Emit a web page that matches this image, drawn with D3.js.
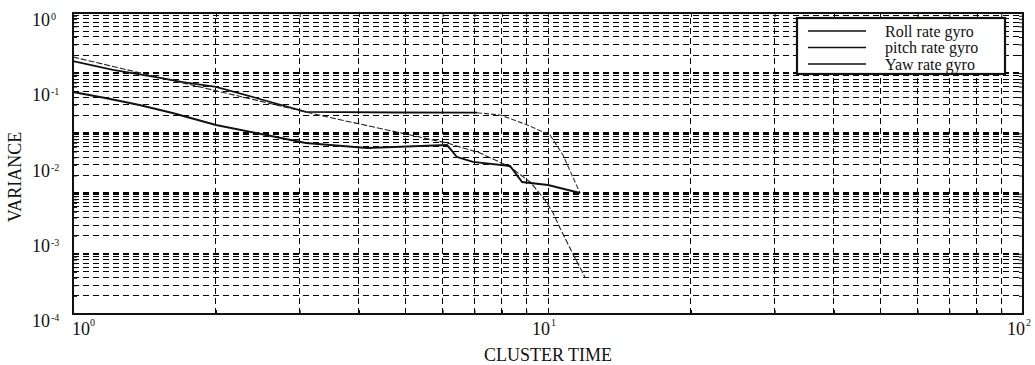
<!DOCTYPE html>
<html>
<head>
<meta charset="utf-8">
<script src="https://cdn.jsdelivr.net/npm/d3@7"></script>
<style>
  body { margin: 0; background: #fff; }
  svg { display: block; }
  text { font-family: "Liberation Serif", "Times New Roman", serif; fill: #111; }
</style>
</head>
<body>
<svg id="chart" width="1035" height="365"></svg>
<script>
// Cluster time values (s) and Allan-style variance for each gyro axis
const rollT   = [1, 1.214, 1.495, 1.704, 2.0, 2.43, 3.09, 4.88, 7.09, 7.93, 8.94, 10.1, 10.75, 11.23, 11.68];
const rollVar = [0.230, 0.175, 0.141, 0.121, 0.104, 0.0742, 0.0484, 0.0476, 0.0473, 0.0441, 0.0335, 0.0239, 0.013, 0.00703, 0.00405];

const pitchT   = [1, 3.36, 6.13, 7.19, 8.32, 9.17, 9.86, 10.25, 10.6, 11.23, 11.96];
const pitchVar = [0.26, 0.0428, 0.0187, 0.0138, 0.00899, 0.00568, 0.00327, 0.0022, 0.00139, 0.000667, 0.00031];

const yawT   = [1, 1.17, 1.38, 1.62, 2.0, 2.43, 3.09, 4.16, 6.13, 6.43, 6.95, 8.32, 8.82, 10.0, 11.68];
const yawVar = [0.0892, 0.0742, 0.0599, 0.0469, 0.0325, 0.0254, 0.0187, 0.0161, 0.0176, 0.0122, 0.0105, 0.00927, 0.00568, 0.00518, 0.00405];

const seriesNames = ["Roll rate gyro", "pitch rate gyro", "Yaw rate gyro"];

// Tick label exponents (labels read 10^k)
const xTickExp = [0, 1, 2];
const yTickExp = [0, -1, -2, -3, -4];

const svg = d3.select("#chart");
const L = 73, R = 1023, T = 13, B = 314;

const x = d3.scaleLog().domain([1, 100]).range([L, R]);
const y = d3.scaleLog().domain([1e-4, 1]).range([B, T]);
// horizontal grid of the figure spans five decades over the same height
const gridY = d3.scaleLog().domain([1e-5, 1]).range([B, T]);

svg.append("rect").attr("width", 1035).attr("height", 365).attr("fill", "#fff");

// ---- grid ----
const grid = svg.append("g").attr("stroke", "#000").attr("fill", "none")
  .attr("stroke-dasharray", "6,4").attr("shape-rendering", "crispEdges");
const isDecade = v => Math.abs(Math.log10(v) - Math.round(Math.log10(v))) < 1e-9;

grid.selectAll("line.v")
  .data(x.ticks().filter(v => v > 1 && v < 100))
  .join("line")
  .attr("x1", d => x(d)).attr("x2", d => x(d))
  .attr("y1", B).attr("y2", T)
  .attr("stroke-width", 1);

grid.selectAll("line.h")
  .data(gridY.ticks().filter(v => v > 1e-5 && v < 1))
  .join("line")
  .attr("x1", L).attr("x2", R)
  .attr("y1", d => gridY(d)).attr("y2", d => gridY(d))
  .attr("stroke-width", d => isDecade(d) ? 2.5 : 1);

// ---- inner ticks on all four sides ----
const tickStyle = g => { g.select(".domain").remove(); g.selectAll(".tick line").attr("stroke", "#111"); };
svg.append("g").attr("transform", `translate(0,${B})`)
  .call(d3.axisBottom(x).tickSize(-4).tickFormat("")).call(tickStyle);
svg.append("g").attr("transform", `translate(0,${T})`)
  .call(d3.axisTop(x).tickSize(-4).tickFormat("")).call(tickStyle);
svg.append("g").attr("transform", `translate(${L},0)`)
  .call(d3.axisLeft(gridY).tickSize(-4).tickFormat("")).call(tickStyle);
svg.append("g").attr("transform", `translate(${R},0)`)
  .call(d3.axisRight(gridY).tickSize(-4).tickFormat("")).call(tickStyle);

// ---- data ----
const line = d3.line().x(d => x(d[0])).y(d => y(d[1]));
const zipPts = (t, v) => t.map((d, i) => [d, v[i]]);

const rollPts = zipPts(rollT, rollVar);
const plateauEnd = 8; // index where the roll curve starts falling off
svg.append("path").datum(rollPts.slice(0, plateauEnd + 1))
  .attr("d", line).attr("fill", "none").attr("stroke", "#111").attr("stroke-width", 1.8);
svg.append("path").datum(rollPts.slice(plateauEnd))
  .attr("d", line).attr("fill", "none").attr("stroke", "#333").attr("stroke-width", 1.1)
  .attr("stroke-dasharray", "5,2");

svg.append("path").datum(zipPts(pitchT, pitchVar))
  .attr("d", line).attr("fill", "none").attr("stroke", "#222").attr("stroke-width", 1.1)
  .attr("stroke-dasharray", "6,2");

svg.append("path").datum(zipPts(yawT, yawVar))
  .attr("d", line).attr("fill", "none").attr("stroke", "#111").attr("stroke-width", 1.9);

// ---- frame ----
svg.append("rect").attr("x", L).attr("y", T).attr("width", R - L).attr("height", B - T)
  .attr("fill", "none").attr("stroke", "#111").attr("stroke-width", 2);

// ---- tick labels ----
const yl = svg.append("g");
yTickExp.forEach(k => {
  const py = y(Math.pow(10, k));
  yl.append("text").attr("x", 50).attr("y", py + 13).attr("text-anchor", "end")
    .attr("font-size", 18).text("10");
  yl.append("text").attr("x", 51).attr("y", py + 7).attr("font-size", 10).text(String(k));
});

const xl = svg.append("g");
xTickExp.forEach((k, i) => {
  const px = x(Math.pow(10, k));
  const t = xl.append("text").attr("y", B + 21).attr("font-size", 18).text("10");
  let endX;
  if (i === 0) { t.attr("x", px - 1).attr("text-anchor", "start"); endX = px + 17; }
  else { t.attr("x", px + 2).attr("text-anchor", "end"); endX = px + 3; }
  xl.append("text").attr("x", endX).attr("y", B + 12).attr("font-size", 10).text(String(k));
});

// ---- axis titles ----
svg.append("text").attr("x", 548).attr("y", 361).attr("text-anchor", "middle")
  .attr("font-size", 18).text("CLUSTER TIME");
svg.append("text").attr("transform", "translate(21,177) rotate(-90)").attr("text-anchor", "middle")
  .attr("font-size", 18).text("VARIANCE");

// ---- legend ----
const lg = svg.append("g");
lg.append("rect").attr("x", 797).attr("y", 18).attr("width", 208).attr("height", 56)
  .attr("fill", "#fff").attr("stroke", "#111").attr("stroke-width", 2.2);
const rowY = d3.scalePoint().domain(seriesNames).range([31, 64]);
seriesNames.forEach(name => {
  lg.append("line").attr("x1", 808).attr("x2", 866).attr("y1", rowY(name)).attr("y2", rowY(name))
    .attr("stroke", "#111").attr("stroke-width", 1.5);
  lg.append("text").attr("x", 885).attr("y", rowY(name) + 5.5).attr("font-size", 16).text(name);
});
</script>
</body>
</html>
